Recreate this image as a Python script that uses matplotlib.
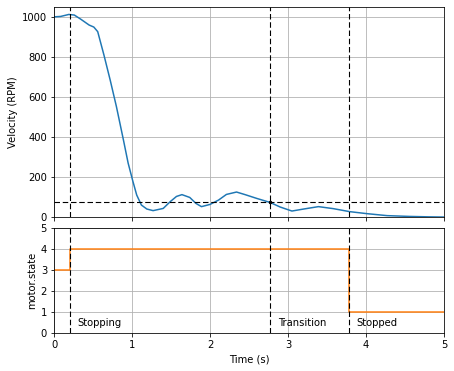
import numpy as np
import matplotlib.pyplot as plt

# velocity samples
t_vel = [0.0, 0.085, 0.19, 0.26, 0.34, 0.45, 0.51, 0.56, 0.64, 0.72, 0.80, 0.89, 0.95,
         1.01, 1.06, 1.12, 1.19, 1.27, 1.40, 1.49, 1.57, 1.64, 1.74, 1.82, 1.89, 2.0,
         2.11, 2.21, 2.34, 2.45, 2.60, 2.77, 2.90, 3.05, 3.20, 3.39, 3.58, 3.79, 4.01,
         4.27, 4.56, 4.80, 5.0]
velocity = [1001, 1003, 1013, 1010, 990, 960, 950, 927, 810, 685, 552, 385, 270,
            180, 110, 60, 40, 32, 43, 77, 103, 112, 98, 68, 52, 63,
            85, 113, 125, 112, 93, 73, 50, 30, 40, 52, 42, 27, 17,
            7, 3, 1, 0]

# motor state steps
t_state = [0.0, 0.2, 3.78, 5.0]
state = [3, 4, 1, 1]

threshold = 75
events = [0.2, 2.77, 3.78]
labels = ["Stopping", "Transition", "Stopped"]

fig = plt.figure(figsize=(454 / 72, 371 / 72), dpi=72)
ax1 = fig.add_axes([0.119, 0.415, 0.859, 0.566])
ax2 = fig.add_axes([0.119, 0.1024, 0.859, 0.2830], sharex=ax1)

dash = dict(color="k", ls=(0, (5, 2.5)), lw=1.1)

ax1.plot(t_vel, velocity, color="C0")
ax1.axhline(threshold, **dash)
ax1.plot(events[1], threshold, "k.", ms=5)
for e in events:
    ax1.axvline(e, **dash)
ax1.set_ylim(0, 1050)
ax1.set_xlim(0, 5)
ax1.set_ylabel("Velocity (RPM)")
ax1.grid(True)
ax1.tick_params(labelbottom=False)

ax2.plot(t_state, state, color="C1", drawstyle="steps-post")
for e, lab in zip(events, labels):
    ax2.axvline(e, **dash)
    ax2.text(e + 0.1, 0.5, lab, va="center")
ax2.set_ylim(0, 5)
ax2.set_xlim(0, 5)
ax2.set_ylabel("motor.state")
ax2.set_xlabel("Time (s)")
ax2.grid(True)

fig.savefig("out.png", dpi=72)
